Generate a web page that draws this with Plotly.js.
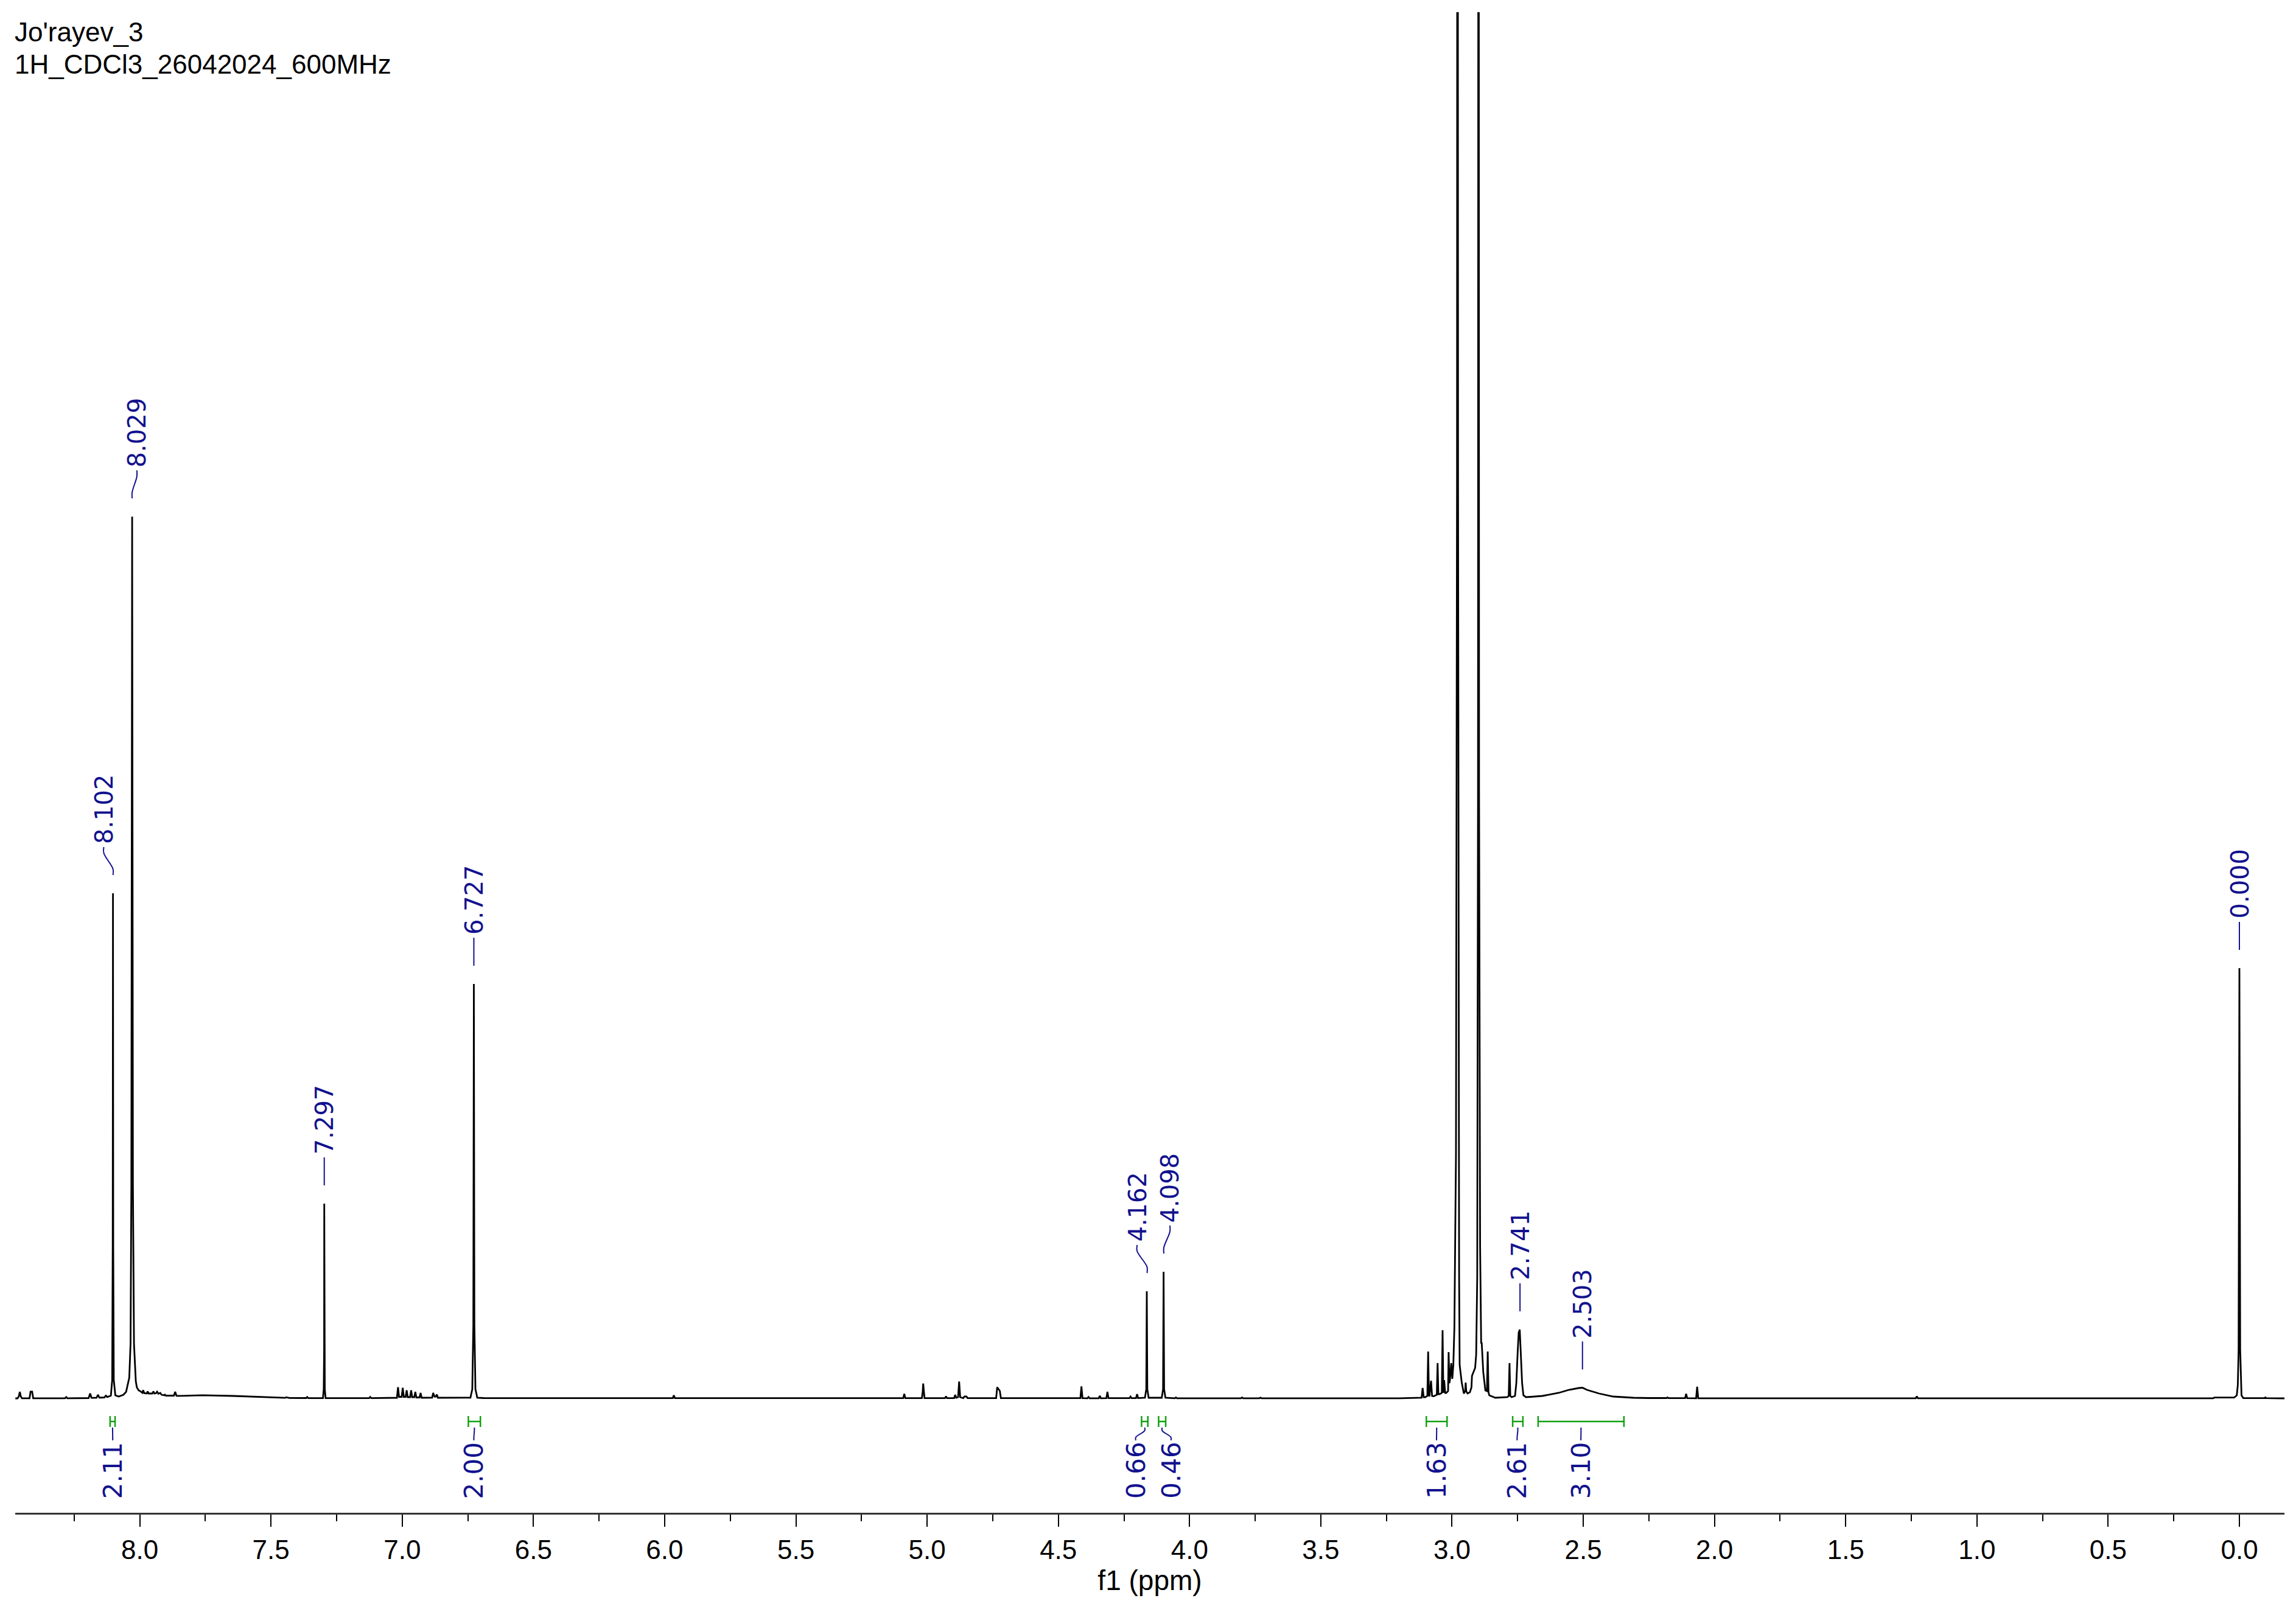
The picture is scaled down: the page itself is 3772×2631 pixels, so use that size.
<!DOCTYPE html>
<html><head><meta charset="utf-8">
<script src="https://cdn.plot.ly/plotly-3.0.1.min.js"></script>
<style>html,body{margin:0;padding:0;background:#fff}</style>
</head><body>
<div id="chart" style="width:3772px;height:2631px"></div>
<script>
// ---- spectrum (chemical shift in ppm, intensity in arbitrary units) ----
const ppm = [
 8.474,8.466,8.461,8.457,8.453,8.449,8.420,8.416,8.410,8.406,8.285,8.280,8.276,
 8.195,8.189,8.184,8.165,8.159,8.154,8.135,8.129,8.124,8.110,8.105,8.103,8.102,8.101,8.099,8.093,
 8.080,8.062,8.052,8.040,8.035,8.032,8.029,8.026,8.022,8.015,8.011,8.004,7.999,
 7.990,7.987,7.983,7.973,7.970,7.966,7.952,7.948,7.944,7.938,7.934,7.929,7.922,7.917,
 7.906,7.904,7.900,7.870,7.865,7.860,7.840,7.762,7.644,7.525,7.466,7.446,7.442,7.436,7.430,
 7.366,7.362,7.358,7.302,7.299,7.2975,7.297,7.2965,7.295,7.292,7.126,7.122,7.118,
 7.020,7.016,7.012,7.002,6.998,6.994,6.987,6.983,6.979,6.970,6.966,6.962,6.954,6.950,6.946,
 6.934,6.930,6.926,6.886,6.882,6.877,6.872,6.868,6.864,
 6.740,6.733,6.729,6.727,6.725,6.721,6.714,6.690,5.969,5.965,5.961,
 5.091,5.087,5.083,5.020,5.017,5.015,5.013,5.010,4.932,4.928,4.924,4.897,4.893,4.889,
 4.882,4.878,4.874,4.862,4.858,4.850,4.846,4.737,4.733,4.727,4.723,4.719,
 4.416,4.412,4.408,4.389,4.385,4.381,4.346,4.342,4.338,4.317,4.313,4.309,
 4.229,4.225,4.221,4.204,4.200,4.196,4.170,4.165,4.163,4.161,4.156,
 4.106,4.101,4.099,4.097,4.092,4.056,4.052,4.048,3.804,3.800,3.796,3.734,3.730,3.726,
 3.200,3.130,3.116,3.112,3.108,3.102,3.094,3.091,3.088,3.086,3.080,3.076,3.070,
 3.058,3.055,3.052,3.047,3.039,3.036,3.033,3.030,3.026,3.022,3.015,3.013,3.010,3.008,
 3.003,2.999,2.995,2.991,2.985,2.981,2.979,2.977,2.973,2.971,2.963,2.955,2.950,2.948,
 2.946,2.941,2.932,2.926,2.924,2.918,2.912,2.908,2.904,2.901,2.899,2.897,2.893,2.889,
 2.887,2.881,2.873,2.867,2.864,2.861,2.858,2.835,2.789,2.784,2.781,2.778,2.773,
 2.760,2.755,2.750,2.746,2.742,2.738,2.733,2.728,2.718,
 2.700,2.656,2.594,2.555,2.517,2.503,2.486,2.440,2.386,2.309,2.250,
 2.183,2.179,2.175,2.112,2.108,2.104,2.070,2.066,2.062,1.233,1.229,1.225,
 0.100,0.095,0.020,0.010,0.006,0.003,0.000,-0.003,-0.005,-0.008,-0.015,
 -0.095,-0.099,-0.103,-0.1716
];
const intensity = [
 0.00,0.00,0.30,1.07,0.30,0.02,0.02,1.10,1.10,0.02,0.02,0.22,0.02,
 0.05,0.80,0.10,0.08,0.60,0.12,0.15,0.45,0.22,0.45,3.0,25,83.0,25,3.0,0.5,
 0.30,0.60,1.07,3.4,9,35,144.9,35,9,2.8,1.8,1.3,1.2,
 0.90,1.35,0.85,0.80,1.15,0.80,0.80,1.15,0.80,0.85,1.10,0.75,0.90,0.60,
 0.50,0.60,0.45,0.45,1.07,0.42,0.42,0.52,0.40,0.20,0.10,0.08,0.18,0.15,0.06,
 0.05,0.23,0.04,0.05,1.5,8,32.0,8,1.5,0.05,0.03,0.23,0.03,
 0.10,1.83,0.25,0.25,1.73,0.25,0.25,1.33,0.20,0.20,1.33,0.20,0.20,1.07,0.15,
 0.15,0.90,0.10,0.12,0.90,0.30,0.30,0.63,0.10,
 0.12,1.5,12,68.1,12,1.5,0.12,0.05,0.04,0.50,0.04,
 0.03,0.73,0.03,0.05,1.0,2.43,1.0,0.05,0.03,0.33,0.03,0.05,0.57,0.10,
 0.20,2.77,0.20,0.05,0.30,0.30,0.04,0.03,1.83,1.5,1.23,0.03,
 0.03,1.97,0.03,0.02,0.23,0.02,0.02,0.43,0.02,0.03,1.07,0.03,
 0.03,0.30,0.03,0.04,0.70,0.04,0.10,1.5,17.6,1.5,0.10,
 0.10,1.5,20.8,1.5,0.10,0.02,0.15,0.02,0.02,0.15,0.02,0.02,0.12,0.02,
 0.02,0.08,0.10,1.7,0.20,0.20,0.40,7.7,0.50,0.35,2.9,0.40,0.35,
 0.60,5.8,0.70,0.70,0.90,11.2,0.90,3.0,0.90,0.90,1.2,7.6,2.5,3.0,
 5.8,3.2,5.5,11.7,40,150,400,150,20,5.5,2.6,0.8,1.2,2.6,
 1.2,0.8,1.0,1.8,3.7,4.3,5.0,7.2,20,100,380,100,25,9.0,
 9.2,4.3,1.3,1.2,7.7,1.0,0.5,0.1,0.2,0.4,5.8,0.4,0.2,
 0.4,2.5,7.5,10.8,11.3,7.5,2.5,0.5,0.2,
 0.25,0.4,0.9,1.4,1.7,1.75,1.4,0.8,0.3,0.1,0.05,
 0.05,0.15,0.03,0.03,0.73,0.03,0.02,1.9,0.02,0.02,0.33,0.02,
 0.02,0.13,0.13,0.5,2.2,8,70.7,8,3.9,0.5,0.05,
 0.03,0.15,0.03,0.00
];

// ---- peak picking labels ----
const peakLabels   = ['8.102','8.029','7.297','6.727','4.162','4.098','2.741','2.503','0.000'];
const peakPositions = [8.102, 8.029, 7.297, 6.727, 4.162, 4.098, 2.741, 2.503, 0.000];
const peakLabelPositions = [8.137, 8.011, 7.297, 6.727, 4.200, 4.075, 2.741, 2.503, 0.000];

// ---- integrals ----
const integralFrom = [8.113, 6.748, 4.183, 4.118, 3.098, 2.769, 2.672];
const integralTo   = [8.094, 6.702, 4.159, 4.091, 3.019, 2.730, 2.345];
const integralValues = ['2.11','2.00','0.66','0.46','1.63','2.61','3.10'];
const integralLabelPositions = [8.103, 6.727, 4.205, 4.071, 3.059, 2.752, 2.509];

// ---- text ----
const headerLines = ["Jo'rayev_3", "1H_CDCl3_26042024_600MHz"];
const xTitle = 'f1 (ppm)';

const NAVY = '#12128e';
const GREEN = '#12a012';
const LABEL_FONT = 'DejaVu Sans, Verdana, sans-serif';
const AXIS_FONT = 'Liberation Sans, Arial, sans-serif';

function peakTopAt(p) {
  let m = 0;
  for (let i = 0; i < ppm.length; i++) {
    if (Math.abs(ppm[i] - p) <= 0.0045 && intensity[i] > m) m = intensity[i];
  }
  return m;
}

// peak label connectors
const pcx = [], pcy = [];
const annotations = [];
peakPositions.forEach((p, i) => {
  const top = peakTopAt(p);
  const lp = peakLabelPositions[i];
  pcx.push(p, p, lp, lp, null);
  pcy.push(top + 3.0, top + 4.0, top + 6.6, top + 7.6, null);
  annotations.push({
    x: lp, y: top + 8.0, xref: 'x', yref: 'y', text: peakLabels[i],
    textangle: -90, showarrow: false, xanchor: 'center', yanchor: 'bottom',
    font: {family: LABEL_FONT, size: 40, color: NAVY}, borderpad: 0
  });
});

// integral bars and connectors
const BAR_Y = -3.8, CAP_TOP = -2.9, CAP_BOT = -4.7;
const gx = [], gy = [], icx = [], icy = [];
integralFrom.forEach((a, i) => {
  const b = integralTo[i];
  gx.push(a, b, null, a, a, null, b, b, null);
  gy.push(BAR_Y, BAR_Y, null, CAP_TOP, CAP_BOT, null, CAP_TOP, CAP_BOT, null);
  const mid = (a + b) / 2;
  const lp = integralLabelPositions[i];
  icx.push(mid, mid, lp, lp, null);
  icy.push(-4.8, -5.3, -6.4, -6.9, null);
  annotations.push({
    x: lp, y: -7.0, xref: 'x', yref: 'y', text: integralValues[i],
    textangle: -90, showarrow: false, xanchor: 'center', yanchor: 'top',
    font: {family: LABEL_FONT, size: 42, color: NAVY}, borderpad: 0
  });
});

// header
headerLines.forEach((t, i) => {
  annotations.push({
    x: -0.0005, y: [0.98702, 0.96553][i], xref: 'paper', yref: 'paper', text: t,
    showarrow: false, xanchor: 'left', yanchor: 'middle',
    font: {family: AXIS_FONT, size: 44, color: '#000'}, borderpad: 0
  });
});

const traces = [
  {x: ppm, y: intensity, type: 'scatter', mode: 'lines', line: {color: '#000', width: 2.8}, hoverinfo: 'skip'},
  {x: pcx, y: pcy, type: 'scatter', mode: 'lines', line: {color: NAVY, width: 2, shape: 'spline'}, hoverinfo: 'skip'},
  {x: gx, y: gy, type: 'scatter', mode: 'lines', line: {color: GREEN, width: 2.5}, hoverinfo: 'skip'},
  {x: icx, y: icy, type: 'scatter', mode: 'lines', line: {color: NAVY, width: 2, shape: 'spline'}, hoverinfo: 'skip'}
];

const layout = {
  width: 3772, height: 2631,
  margin: {l: 25, r: 19, t: 20, b: 145, pad: 0},
  paper_bgcolor: '#fff', plot_bgcolor: '#fff',
  showlegend: false,
  xaxis: {
    range: [8.4745, -0.1716], autorange: false,
    tickmode: 'linear', tick0: 0, dtick: 0.5, tickformat: '.1f',
    ticks: 'outside', ticklen: 20, tickwidth: 2, tickcolor: '#000',
    showline: true, linecolor: '#333', linewidth: 3,
    showgrid: false, zeroline: false,
    tickfont: {family: AXIS_FONT, size: 44, color: '#000'},
    minor: {tick0: 0, dtick: 0.25, ticks: 'outside', ticklen: 11, tickwidth: 2, tickcolor: '#000', showgrid: false},
    title: {text: xTitle, font: {family: AXIS_FONT, size: 46, color: '#000'}, standoff: 12},
    automargin: false
  },
  yaxis: {
    range: [-18.8, 227.8], autorange: false,
    visible: false, showgrid: false, zeroline: false, automargin: false
  },
  annotations: annotations
};

Plotly.newPlot('chart', traces, layout, {staticPlot: true, displayModeBar: false});
</script>
</body></html>
